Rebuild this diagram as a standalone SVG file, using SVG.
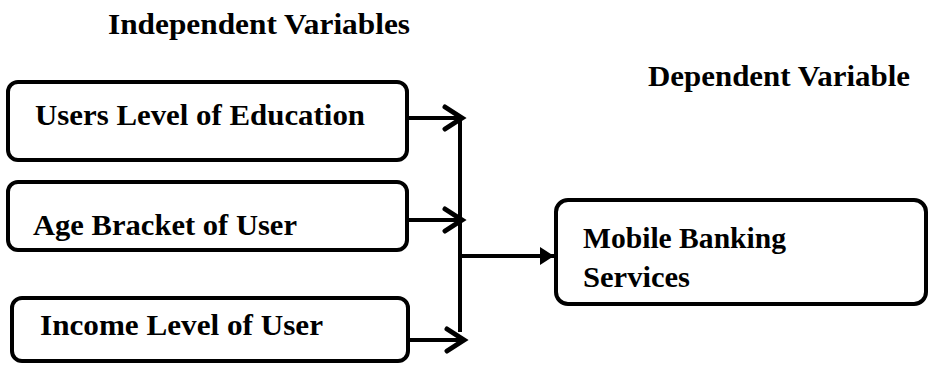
<svg xmlns="http://www.w3.org/2000/svg" width="928" height="365" viewBox="0 0 928 365">
<defs>
<style>
.box{fill:#fff;stroke:#000;stroke-width:4}
.t{font-family:"Liberation Serif","Times New Roman",Times,Tinos,"Noto Serif","DejaVu Serif","Nimbus Roman",FreeSerif,serif;font-weight:700;font-size:30px;fill:#000}
.c{fill:none;stroke:#000;stroke-width:4}
</style>
<marker id="chev" viewBox="0 0 26 28" refX="21" refY="14" markerWidth="26" markerHeight="28" markerUnits="userSpaceOnUse" orient="auto">
<path d="M4,3 L21,14 L4,25" fill="none" stroke="#000" stroke-width="5" stroke-linecap="round" stroke-linejoin="miter"/>
</marker>
<marker id="tri" viewBox="0 0 14 18" refX="14" refY="9" markerWidth="14" markerHeight="18" markerUnits="userSpaceOnUse" orient="auto">
<path d="M0,0 L14,9 L0,18 z" fill="#000"/>
</marker>
</defs>
<text class="t" x="108" y="34" textLength="302" lengthAdjust="spacingAndGlyphs">Independent Variables</text>
<text class="t" x="648" y="86" textLength="262" lengthAdjust="spacingAndGlyphs">Dependent Variable</text>
<g id="n1">
<rect class="box" x="8" y="82" width="399" height="78" rx="10"/>
<text class="t" x="35" y="125" textLength="330" lengthAdjust="spacingAndGlyphs">Users Level of Education</text>
</g>
<g id="n2">
<rect class="box" x="8" y="182" width="399" height="68" rx="10"/>
<text class="t" x="33" y="235" textLength="264" lengthAdjust="spacingAndGlyphs">Age Bracket of User</text>
</g>
<g id="n3">
<rect class="box" x="12" y="298" width="396" height="63" rx="10"/>
<text class="t" x="40" y="335" textLength="283" lengthAdjust="spacingAndGlyphs">Income Level of User</text>
</g>
<g id="n4">
<rect class="box" x="556" y="200" width="370" height="104" rx="12"/>
<text class="t" x="583" y="248" textLength="203" lengthAdjust="spacingAndGlyphs">Mobile Banking</text>
<text class="t" x="583" y="287" textLength="107" lengthAdjust="spacingAndGlyphs">Services</text>
</g>
<g id="connectors">
<line class="c" x1="407" y1="118" x2="462" y2="118" marker-end="url(#chev)"/>
<line class="c" x1="407" y1="220" x2="462" y2="220" marker-end="url(#chev)"/>
<line class="c" x1="408" y1="340" x2="464" y2="340" marker-end="url(#chev)"/>
<line class="c" x1="460" y1="118" x2="460" y2="332"/>
<line class="c" x1="460" y1="256" x2="554" y2="256" marker-end="url(#tri)"/>
</g>
</svg>
